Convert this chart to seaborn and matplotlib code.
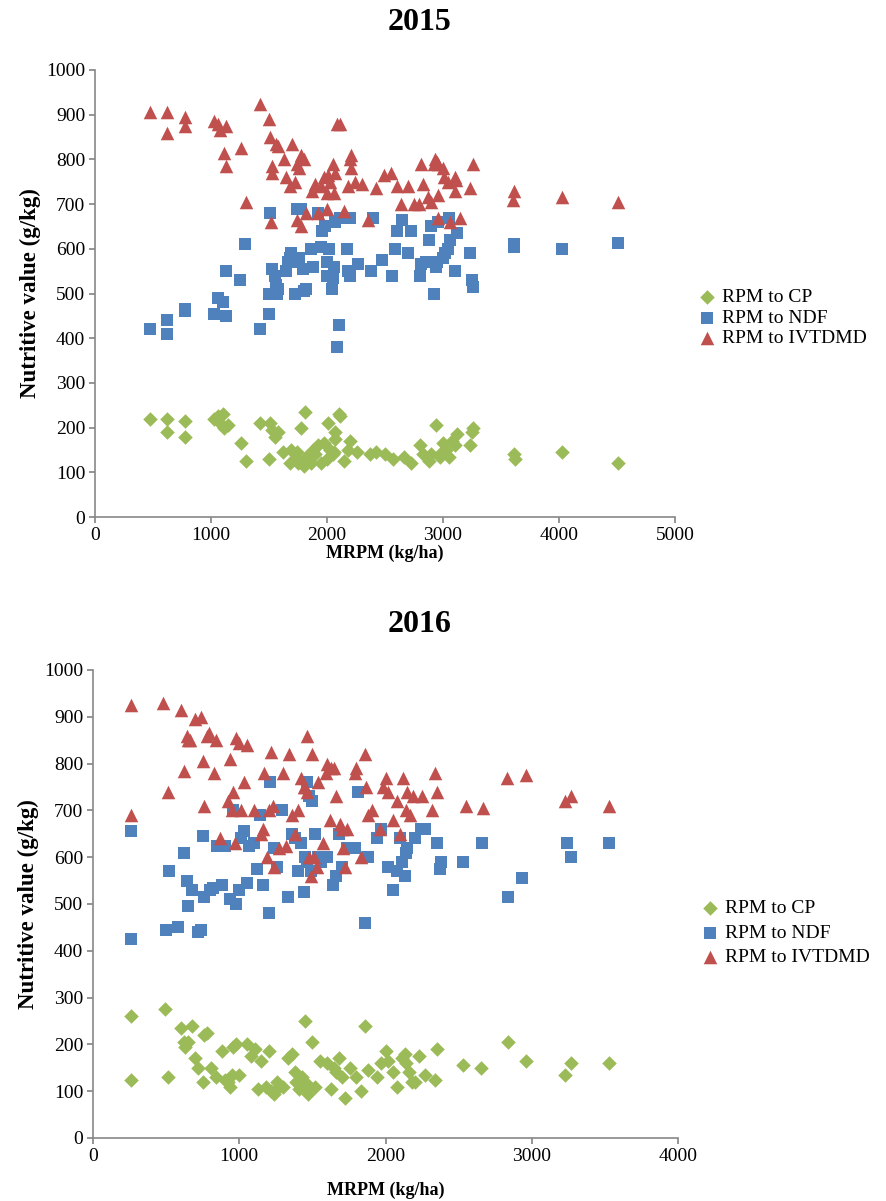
import numpy as np
import pandas as pd
import matplotlib
matplotlib.use("Agg")
import matplotlib.pyplot as plt
import seaborn as sns

# ---------------- 2015 data ----------------
ivt15_x = [470,620,620,780,780,1030,1060,1080,1130,1110,1130,1260,1300,1420,1500,1510,1530,1530,1560,1580,1520,1630,1650,1680,1700,1720,1740,1760,1780,1800,1820,1780,1740,1870,1900,1920,1950,1970,2000,2000,2010,2030,2050,2070,2060,2090,2110,2150,2180,2200,2210,2210,2240,2300,2350,2420,2490,2550,2600,2640,2700,2750,2790,2810,2830,2870,2900,2920,2930,2950,2960,2960,2960,3000,3010,3040,3060,3100,3110,3100,3150,3230,3260,3610,3600,4030,4510]
ivt15_y = [905,905,858,895,875,885,880,865,875,815,785,825,705,925,890,850,785,770,835,830,660,800,760,740,835,750,790,780,810,800,680,650,665,730,745,680,740,760,725,690,765,750,790,770,725,880,880,685,740,800,780,810,750,745,665,735,765,770,740,700,740,700,700,790,745,715,705,790,800,795,790,720,670,780,760,750,660,760,755,730,670,735,790,730,710,715,705]

ndf15_x = [470,620,620,780,780,1030,1060,1100,1130,1130,1250,1290,1420,1500,1500,1510,1530,1550,1560,1570,1580,1650,1660,1680,1690,1720,1740,1760,1760,1780,1790,1800,1820,1860,1880,1920,1950,1960,1980,2000,2000,2020,2040,2050,2060,2070,2090,2100,2110,2170,2180,2200,2200,2270,2380,2400,2470,2560,2590,2600,2650,2700,2720,2800,2810,2850,2880,2900,2920,2940,2950,2960,3000,3020,3040,3050,3060,3100,3120,3230,3250,3260,3610,3610,4030,4510]
ndf15_y = [420,440,410,465,460,455,490,480,450,550,530,610,420,455,500,680,555,540,520,500,510,550,570,580,590,500,690,580,570,690,555,505,510,600,560,680,605,640,650,570,540,600,510,535,560,660,380,430,670,600,550,540,670,565,550,670,575,540,600,640,665,590,640,540,565,570,620,650,500,560,570,660,580,590,600,670,620,550,635,590,530,515,610,605,600,612]

cp15_x = [470,620,620,780,780,1030,1060,1080,1100,1110,1150,1260,1300,1420,1500,1510,1530,1550,1580,1620,1680,1690,1720,1740,1750,1780,1800,1810,1820,1860,1880,1900,1920,1950,1970,2000,2010,2030,2050,2060,2070,2070,2100,2110,2150,2180,2200,2260,2370,2420,2500,2570,2660,2720,2800,2830,2880,2900,2940,2970,2990,3000,3030,3050,3080,3100,3120,3230,3250,3260,3610,3620,4030,4510]
cp15_y = [220,220,190,215,180,220,225,210,230,200,205,165,125,210,130,210,195,180,190,145,120,150,130,145,120,200,115,235,135,120,150,140,160,120,165,130,210,150,140,145,190,175,230,225,125,150,170,145,140,145,140,130,135,120,160,140,125,140,205,135,145,165,150,135,170,160,185,160,190,200,140,130,145,120]

# ---------------- 2016 data ----------------
ivt16_x = [260,260,480,510,600,620,640,650,660,700,740,750,760,780,790,830,840,870,920,940,950,960,970,980,1000,1010,1030,1050,1100,1150,1160,1170,1190,1200,1220,1230,1240,1270,1300,1320,1340,1360,1380,1400,1420,1440,1450,1460,1460,1480,1490,1500,1510,1530,1540,1570,1590,1600,1620,1630,1650,1660,1690,1700,1710,1720,1740,1790,1800,1830,1860,1870,1880,1910,1960,1980,2000,2020,2050,2080,2100,2120,2140,2150,2170,2190,2250,2320,2340,2350,2550,2670,2830,2960,3230,3270,3530]
ivt16_y = [925,690,930,740,915,785,860,850,850,895,900,805,710,860,865,780,850,640,720,810,700,740,630,855,845,700,760,840,700,650,660,780,600,700,825,710,580,620,780,625,820,690,650,700,770,750,750,860,740,600,560,820,600,580,760,630,780,800,680,790,790,730,670,660,620,580,660,780,790,600,820,750,690,700,660,750,770,740,680,720,650,770,700,740,690,730,730,700,780,740,710,705,770,775,720,730,710]

ndf16_x = [260,260,500,520,580,620,640,650,680,720,740,750,760,800,820,850,880,900,940,960,980,1000,1010,1030,1050,1070,1100,1120,1140,1160,1200,1210,1240,1260,1290,1330,1360,1380,1400,1420,1440,1450,1460,1460,1480,1490,1500,1520,1540,1560,1600,1640,1660,1680,1700,1740,1790,1810,1860,1880,1940,1970,2020,2050,2080,2100,2110,2130,2140,2150,2200,2240,2270,2350,2370,2380,2530,2660,2840,2930,3240,3270,3530]
ndf16_y = [655,425,445,570,450,610,550,495,530,440,445,645,515,530,535,625,540,625,510,700,500,530,640,655,545,625,630,575,690,540,480,760,620,580,700,515,650,640,570,630,525,600,590,760,730,570,720,650,600,590,600,540,560,650,580,620,620,740,460,600,640,660,580,530,570,640,590,560,610,620,640,660,660,630,575,590,590,630,515,555,630,600,630]

cp16_x = [260,260,490,510,600,620,630,650,680,700,720,750,760,780,810,840,880,900,920,940,950,960,980,1000,1050,1080,1110,1130,1150,1180,1200,1220,1240,1260,1270,1300,1330,1360,1380,1390,1410,1430,1450,1460,1470,1480,1500,1520,1550,1600,1630,1650,1660,1680,1700,1720,1760,1800,1830,1860,1880,1940,1970,2000,2020,2050,2080,2110,2130,2140,2160,2180,2200,2230,2270,2340,2350,2530,2650,2840,2960,3230,3270,3530]
cp16_y = [260,125,275,130,235,205,195,205,240,170,150,120,220,225,150,130,185,125,120,110,135,195,200,135,200,175,190,105,165,110,185,100,95,120,110,110,170,180,140,120,105,130,250,115,95,110,205,110,165,160,105,150,140,170,130,85,150,130,100,240,145,130,160,185,165,140,110,170,180,160,140,120,120,175,135,125,190,155,150,205,165,135,160,160]

series_labels = ["RPM to CP", "RPM to NDF", "RPM to IVTDMD"]
colors = ["#9BBB59", "#4F81BD", "#C0504D"]
markers = ["D", "s", "^"]
sizes = [55, 85, 95]

sns.set_theme(style="white")
plt.rcParams["font.family"] = ["Liberation Serif", "DejaVu Serif"]
plt.rcParams["text.color"] = "black"
plt.rcParams["axes.labelcolor"] = "black"
plt.rcParams["xtick.color"] = "black"
plt.rcParams["ytick.color"] = "black"

fig = plt.figure(figsize=(8.87, 12.01), dpi=100)
W, H = 887, 1201

def make_ax(left, right, top, bottom):
    return fig.add_axes([left / W, (H - bottom) / H, (right - left) / W, (bottom - top) / H])

ax1 = make_ax(95, 675, 70, 517)
ax2 = make_ax(93, 678, 670, 1138)

def draw(ax, data, title, xmax, leg_y, title_y, xpad, lspace):
    for (xs, ys), lab, c, m, s in zip(data, series_labels, colors, markers, sizes):
        df = pd.DataFrame({"x": xs, "y": ys})
        sns.scatterplot(data=df, x="x", y="y", ax=ax, color=c, marker=m, s=s,
                        linewidth=0, label=lab, zorder=3)
    ax.set_xlim(0, xmax)
    ax.set_ylim(0, 1000)
    ax.set_xticks(np.arange(0, xmax + 1, 1000))
    ax.set_yticks(np.arange(0, 1001, 100))
    ax.tick_params(axis="both", labelsize=14, length=4, direction="out",
                   bottom=True, left=True, labelcolor="black", pad=3)
    ax.tick_params(axis="both", color="#888888")
    for sp in ["top", "right"]:
        ax.spines[sp].set_visible(False)
    for sp in ["left", "bottom"]:
        ax.spines[sp].set_color("#888888")
        ax.spines[sp].set_linewidth(1.2)
    ax.set_xlabel("MRPM (kg/ha)", fontsize=13, fontweight="bold", labelpad=xpad, color="black")
    ax.set_ylabel("Nutritive value (g/kg)", fontsize=16.5, fontweight="bold", labelpad=4, color="black")
    fig.text(420 / W, 1 - title_y / H, title, fontsize=23, fontweight="bold",
             ha="center", va="center", color="black")
    leg = ax.legend(loc="center left", bbox_to_anchor=(1.025, leg_y), frameon=False,
                    fontsize=14, handlelength=1.0, handletextpad=0.25,
                    labelspacing=lspace, borderaxespad=0)
    for t in leg.get_texts():
        t.set_color("black")

draw(ax1, [(cp15_x, cp15_y), (ndf15_x, ndf15_y), (ivt15_x, ivt15_y)], "2015", 5000, 0.445, 22, 1, 0.15)
draw(ax2, [(cp16_x, cp16_y), (ndf16_x, ndf16_y), (ivt16_x, ivt16_y)], "2016", 4000, 0.438, 625, 12, 0.35)

fig.savefig("out.png", dpi=100)
